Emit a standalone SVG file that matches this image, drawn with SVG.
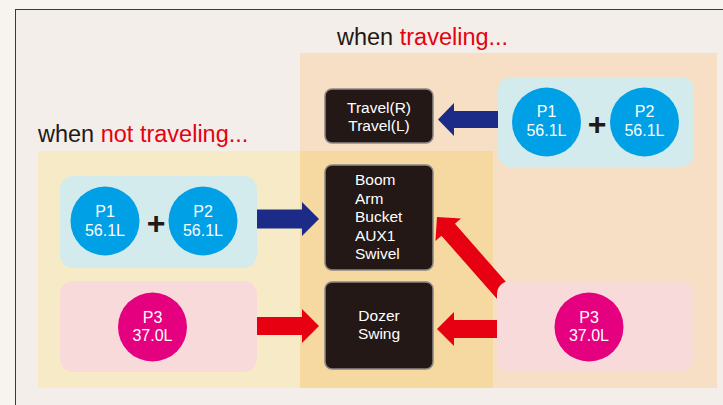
<svg xmlns="http://www.w3.org/2000/svg" width="723" height="405" viewBox="0 0 723 405">
<defs>
<style>
.title{font-family:"Liberation Sans",Arial,sans-serif;font-size:23.5px;fill:#231815}
.red{fill:#e60012}
.box{fill:#231815;stroke:#8c8886;stroke-width:1.5}
.boxt{font-family:"Liberation Sans",Arial,sans-serif;font-size:15.5px;fill:#ffffff}
.ct{font-family:"Liberation Sans",Arial,sans-serif;font-size:16px;fill:#ffffff;text-anchor:middle}
.blue{fill:#00a0e6}
.mag{fill:#e4007f}
.plus{font-family:"Liberation Sans",Arial,sans-serif;font-size:32px;font-weight:bold;fill:#231815;text-anchor:middle}
.pb{fill:#d3ebec}
.pp{fill:#f8dada}
.ar{fill:#e60012}
.an{fill:#1c2a88}
</style>
</defs>
<rect x="0" y="0" width="723" height="405" fill="#f7f4f0"/>
<rect x="15.5" y="9.5" width="720" height="400" fill="#f3eee9" stroke="#3a3a3a" stroke-width="1"/>
<g id="regions">
<rect x="300" y="53" width="417" height="335" fill="#f6dfc4"/>
<rect x="38" y="151" width="262" height="237" fill="#f6ebc6"/>
<rect x="300" y="151" width="193" height="237" fill="#f5d9a0"/>
</g>
<g id="titles">
<text class="title" x="337" y="45">when <tspan class="red">traveling...</tspan></text>
<text class="title" x="38" y="142">when <tspan class="red">not traveling...</tspan></text>
</g>
<g id="connectors">
<polygon class="an" points="257,209.5 302,209.5 302,202 319,219 302,236 302,228.5 257,228.5"/>
<polygon class="ar" points="257,317 302,317 302,309 319,326 302,343 302,335 257,335"/>
<polygon class="an" points="498,111 454,111 454,103 438,119.5 454,136 454,128 498,128"/>
<polygon class="ar" points="497,320 454,320 454,312 437,329 454,346 454,338 497,338"/>
<polygon class="ar" transform="translate(437,217) rotate(-131.3)" points="-115,-9 -17,-9 -17,-17 0,0 -17,17 -17,9 -115,9"/>
</g>
<g id="pumps-left-p1p2">
<rect class="pb" x="60" y="176" width="197" height="92" rx="13"/>
<circle class="blue" cx="105" cy="221" r="34.5"/>
<circle class="blue" cx="203" cy="221" r="34.5"/>
<text class="ct" x="105" y="217">P1</text>
<text class="ct" x="105" y="236">56.1L</text>
<text class="ct" x="203" y="217">P2</text>
<text class="ct" x="203" y="236">56.1L</text>
<text class="plus" x="156" y="234">+</text>
</g>
<g id="pump-left-p3">
<rect class="pp" x="60" y="281" width="197" height="91" rx="13"/>
<circle class="mag" cx="152.5" cy="327" r="34.5"/>
<text class="ct" x="152.5" y="323">P3</text>
<text class="ct" x="152.5" y="341">37.0L</text>
</g>
<g id="pumps-right-p1p2">
<rect class="pb" x="498" y="77" width="196" height="90" rx="13"/>
<circle class="blue" cx="546.5" cy="122" r="34.5"/>
<circle class="blue" cx="644.5" cy="122" r="34.5"/>
<text class="ct" x="546.5" y="117">P1</text>
<text class="ct" x="546.5" y="136">56.1L</text>
<text class="ct" x="644.5" y="117">P2</text>
<text class="ct" x="644.5" y="136">56.1L</text>
<text class="plus" x="597" y="135">+</text>
</g>
<g id="pump-right-p3">
<rect class="pp" x="497" y="281" width="196" height="91" rx="13"/>
<circle class="mag" cx="589" cy="327" r="34.5"/>
<text class="ct" x="589" y="323">P3</text>
<text class="ct" x="589" y="341">37.0L</text>
</g>
<g id="travel">
<rect class="box" x="325" y="89" width="108" height="54" rx="7"/>
<text class="boxt" x="379" y="113" text-anchor="middle">Travel(R)</text>
<text class="boxt" x="379" y="131" text-anchor="middle">Travel(L)</text>
</g>
<g id="work">
<rect class="box" x="325" y="165" width="108" height="105" rx="7"/>
<text class="boxt" x="355" y="185">Boom</text>
<text class="boxt" x="355" y="203.5">Arm</text>
<text class="boxt" x="355" y="222">Bucket</text>
<text class="boxt" x="355" y="240.5">AUX1</text>
<text class="boxt" x="355" y="259">Swivel</text>
</g>
<g id="dozer">
<rect class="box" x="325" y="282" width="108" height="87" rx="7"/>
<text class="boxt" x="379" y="321" text-anchor="middle">Dozer</text>
<text class="boxt" x="379" y="339" text-anchor="middle">Swing</text>
</g>
</svg>
